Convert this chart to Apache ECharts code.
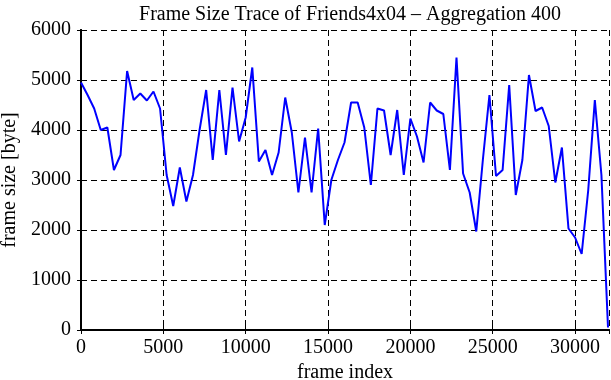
<!DOCTYPE html>
<html lang="en">
<head>
    <meta charset="UTF-8">
    <title>Frame Size Trace</title>
    <script src="https://cdn.jsdelivr.net/npm/echarts@6/dist/echarts.min.js"></script>
    <style>
        html, body { margin: 0; padding: 0; background: #fff; }
        #chart { width: 611px; height: 380px; }
    </style>
</head>
<body>
<div id="chart"></div>
<script>
    // one point per aggregated block of 400 frames
    var aggregation = 400;
    var frameSizes = [
        4950, 4700, 4430, 4000, 4050, 3200, 3500, 5180, 4600, 4730,
        4590, 4770, 4430, 3100, 2480, 3250, 2570, 3100, 4000, 4800,
        3400, 4800, 3500, 4850, 3770, 4250, 5250, 3370, 3600, 3100,
        3550, 4650, 3950, 2750, 3850, 2750, 4030, 2100, 3000, 3400,
        3750, 4550, 4550, 4050, 2900, 4430, 4390, 3500, 4400, 3100,
        4230, 3870, 3350, 4550, 4390, 4320, 3200, 5450, 3130, 2750,
        1970, 3400, 4700, 3080, 3200, 4900, 2700, 3400, 5100, 4380,
        4450, 4080, 2950, 3650, 2030, 1850, 1520, 2800, 4600, 3100,
        50
    ];
    var xTicks = [0, 5000, 10000, 15000, 20000, 25000, 30000];
    var yTicks = [0, 1000, 2000, 3000, 4000, 5000, 6000];

    var fontName = '"Liberation Serif", "DejaVu Serif", serif';
    var points = frameSizes.map(function (v, i) { return [i * aggregation, v]; });

    var frameLine = { show: true, lineStyle: { color: '#000', width: 2 } };
    var gridDash = { show: true, lineStyle: { color: '#000', type: [6, 4], width: 1 } };
    var tickIn = { show: true, inside: true, length: 4, lineStyle: { color: '#000', width: 1 } };
    var plain = function (v) { return String(v); };

    var chart = echarts.init(document.getElementById('chart'));
    chart.setOption({
        animation: false,
        textStyle: { fontFamily: fontName, color: '#000' },
        title: {
            text: 'Frame Size Trace of Friends4x04 \u2013 Aggregation 400',
            left: 345, top: 0, textAlign: 'center',
            textStyle: { fontFamily: fontName, fontSize: 20, fontWeight: 'normal', color: '#000' }
        },
        grid: { left: 81, right: 2, top: 30, bottom: 50, containLabel: false, outerBoundsMode: 'none' },
        xAxis: [{
            type: 'value', min: xTicks[0], max: 32060, interval: 5000,
            name: 'frame index', nameLocation: 'middle', nameGap: 31,
            nameTextStyle: { fontFamily: fontName, fontSize: 20, color: '#000' },
            axisLine: frameLine, axisTick: tickIn, splitLine: gridDash,
            axisLabel: { margin: 8, fontFamily: fontName, fontSize: 20, color: '#000', showMaxLabel: false, formatter: plain }
        }, {
            type: 'value', position: 'top', min: xTicks[0], max: 32060, interval: 5000,
            axisLine: frameLine, axisTick: tickIn, splitLine: { show: false },
            axisLabel: { show: false }
        }],
        yAxis: [{
            type: 'value', min: yTicks[0], max: yTicks[yTicks.length - 1], interval: 1000,
            name: 'frame size [byte]', nameLocation: 'middle', nameGap: 56,
            nameTextStyle: { fontFamily: fontName, fontSize: 20, color: '#000' },
            axisLine: frameLine, axisTick: tickIn, splitLine: gridDash,
            axisLabel: { margin: 10, fontFamily: fontName, fontSize: 20, color: '#000', formatter: plain }
        }, {
            type: 'value', position: 'right', min: yTicks[0], max: yTicks[yTicks.length - 1], interval: 1000,
            axisLine: frameLine, axisTick: tickIn, splitLine: { show: false },
            axisLabel: { show: false }
        }],
        series: [{
            type: 'line',
            data: points,
            showSymbol: false,
            lineStyle: { color: '#0000ff', width: 2 },
            z: 5
        }]
    });
</script>
</body>
</html>
